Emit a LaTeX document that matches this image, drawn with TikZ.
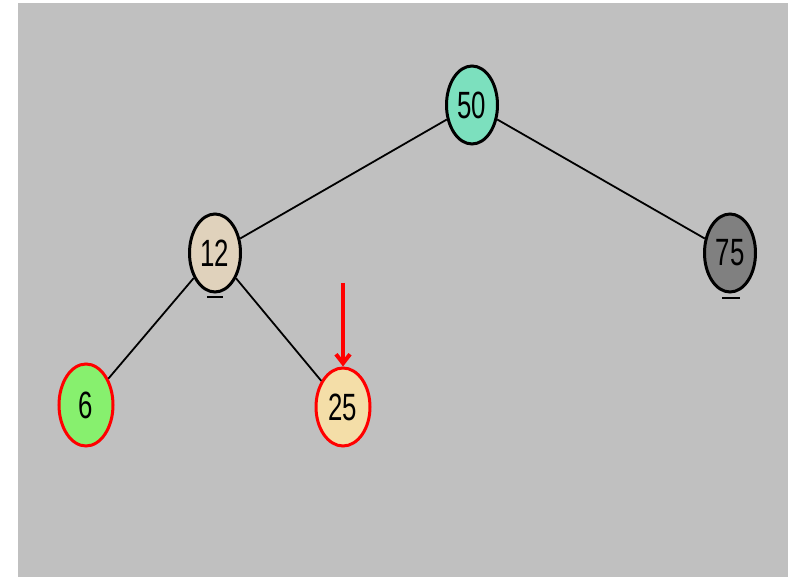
\documentclass[tikz,border=0pt]{standalone}
\usepackage{fontspec}
\setmainfont{Liberation Sans}
\usetikzlibrary{arrows.meta,shapes.geometric}
\definecolor{bg}{RGB}{192,192,192}
\definecolor{c50}{RGB}{124,224,190}
\definecolor{c12}{RGB}{224,210,188}
\definecolor{c75}{RGB}{128,128,128}
\definecolor{c6}{RGB}{135,240,110}
\definecolor{c25}{RGB}{244,222,168}
\definecolor{hl}{RGB}{255,0,0}
\tikzset{
  treenode/.style={ellipse, draw=black, line width=3pt, minimum width=51pt, minimum height=78pt, inner sep=0pt,
    font=\fontsize{38}{38}\selectfont},
  rednode/.style={treenode, draw=hl},
  edge/.style={draw=black, line width=1.8pt},
  shadowmark/.style={draw=black, line width=2pt},
}
\newcommand{\nlab}[1]{\scalebox{0.68}[1]{#1}}
\begin{document}
\begin{tikzpicture}[x=1pt,y=-1pt]
\useasboundingbox (0,0) rectangle (788,577);
\fill[bg] (18,3) rectangle (788,577);
\node[treenode, fill=c50] (n50) at (472,105) {\nlab{50}};
\node[treenode, fill=c12] (n12) at (215,253) {\nlab{12}};
\node[treenode, fill=c75] (n75) at (730,253) {\nlab{75}};
\node[rednode, fill=c6, minimum width=54pt, minimum height=82pt] (n6) at (86,405) {\nlab{6}};
\node[rednode, fill=c25, minimum width=54pt, minimum height=78pt] (n25) at (343,407) {\nlab{25}};
\draw[edge] (n50) -- (n12);
\draw[edge] (n50) -- (n75);
\draw[edge] (n12) -- (n6);
\draw[edge] (n12) -- (n25);
\coordinate (arrstart) at (343,283);
\draw[hl, line width=4pt, -{Straight Barb[length=9pt,width=14pt]}] (arrstart) -- (n25.north);
\draw[shadowmark] (207,297) -- (223,297);
\draw[shadowmark] (722,298) -- (740,298);
\end{tikzpicture}
\end{document}
